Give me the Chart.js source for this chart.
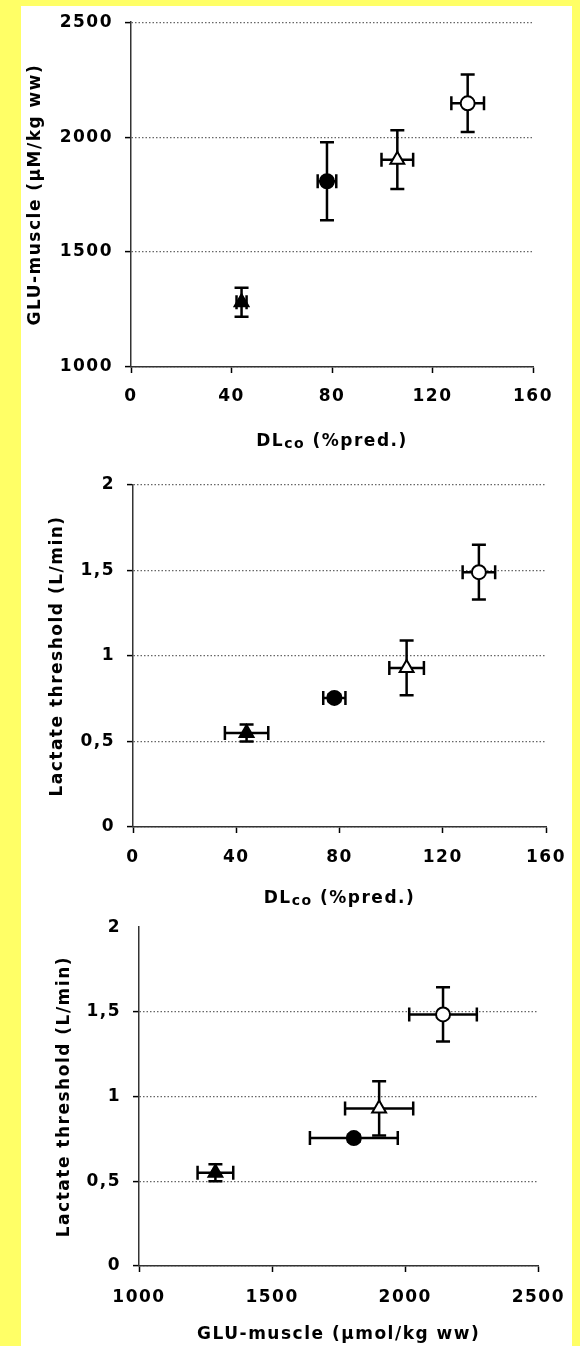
<!DOCTYPE html>
<html>
<head>
<meta charset="utf-8">
<script src="https://cdn.jsdelivr.net/npm/chart.js@4.4.1/dist/chart.umd.min.js"></script>
<style>
  html, body { margin: 0; padding: 0; background: #ffff66; }
  #page { position: relative; width: 580px; height: 1346px; overflow: hidden; }
  #panel { position: absolute; left: 21px; top: 6px; width: 551px; height: 1340px; background: #fff; }
  canvas { position: absolute; left: 0; }
</style>
</head>
<body>
<div id="page">
  <div id="panel"></div>
  <canvas id="c1" width="580" height="458" style="top:0"></canvas>
  <canvas id="c2" width="580" height="454" style="top:458px"></canvas>
  <canvas id="c3" width="580" height="441" style="top:905px"></canvas>
</div>
<script>
/* three scatter panels with x/y error bars (group means +- SE) */

// group markers: filled triangle, filled circle, open triangle, open circle
const markerStyle = ['triangle', 'circle', 'triangle', 'circle'];
const markerFill = ['#000', '#000', '#fff', '#fff'];
const markerSize = [8, 7, 8, 7];

// panel A: GLU-muscle vs DLco
const dlcoA = [44, 78, 106, 134];
const dlcoErrA = [2, 3.7, 6.3, 6.5];
const gluA = [1282, 1808, 1902, 2147];
const gluErrA = [63, 170, 128, 125];

// panel B: lactate threshold vs DLco
const dlcoB = [44, 78, 106, 134];
const dlcoErrB = [8.4, 4.3, 6.7, 6.3];
const ltB = [0.55, 0.755, 0.93, 1.49];
const ltErrB = [0.05, 0.02, 0.16, 0.16];

// panel C: lactate threshold vs GLU-muscle
const gluC = [1287, 1807, 1902, 2142];
const gluErrC = [67, 165, 128, 127];
const ltC = [0.55, 0.755, 0.93, 1.485];
const ltErrC = [0.05, 0.02, 0.16, 0.16];

// axis ticks
const dlcoTicks = [0, 40, 80, 120, 160];
const gluTicks = [1000, 1500, 2000, 2500];
const ltTicks = [0, 0.5, 1, 1.5, 2];

const FONT = "'DejaVu Sans', 'Liberation Sans', sans-serif";
const tickFont = { family: FONT, size: 17, weight: 'bold' };
const titleFont = { family: FONT, size: 17, weight: 'bold' };
const GRID = '#666';
const CAP = 7;

const comma = (v) => String(v).replace('.', ',');

// wide tracking like the scanned figure; canvas resets state on resize so set it often
const tracking = {
  id: 'tracking',
  beforeLayout(chart) { chart.ctx.letterSpacing = '1.5px'; },
  beforeDraw(chart) { chart.ctx.letterSpacing = '1.5px'; }
};

// error bars drawn under the markers, from the dataset's xErr / yErr arrays
const errorBars = {
  id: 'errorBars',
  beforeDatasetsDraw(chart) {
    const { ctx } = chart, sx = chart.scales.x, sy = chart.scales.y;
    chart.data.datasets.forEach((ds) => {
      ctx.save();
      ctx.strokeStyle = '#000'; ctx.lineWidth = 2.5; ctx.setLineDash([]);
      ds.data.forEach((p, i) => {
        const px = sx.getPixelForValue(p.x), py = sy.getPixelForValue(p.y);
        const x0 = sx.getPixelForValue(p.x - ds.xErr[i]), x1 = sx.getPixelForValue(p.x + ds.xErr[i]);
        const y0 = sy.getPixelForValue(p.y - ds.yErr[i]), y1 = sy.getPixelForValue(p.y + ds.yErr[i]);
        ctx.beginPath();
        ctx.moveTo(x0, py); ctx.lineTo(x1, py);
        ctx.moveTo(x0, py - CAP); ctx.lineTo(x0, py + CAP);
        ctx.moveTo(x1, py - CAP); ctx.lineTo(x1, py + CAP);
        ctx.moveTo(px, y0); ctx.lineTo(px, y1);
        ctx.moveTo(px - CAP, y0); ctx.lineTo(px + CAP, y0);
        ctx.moveTo(px - CAP, y1); ctx.lineTo(px + CAP, y1);
        ctx.stroke();
      });
      ctx.restore();
    });
  }
};

// "DLco (%pred.)" with the subscript, centred under the plot
const dlcoTitle = (baseline) => ({
  id: 'dlcoTitle',
  afterDraw(chart) {
    const { ctx, chartArea } = chart;
    const parts = [['DL', 17, 0], ['co', 14, 2], [' (%pred.)', 17, 0]];
    ctx.save();
    ctx.letterSpacing = '1.5px';
    ctx.fillStyle = '#000'; ctx.textAlign = 'left'; ctx.textBaseline = 'alphabetic';
    let total = 0;
    parts.forEach((p) => { ctx.font = `bold ${p[1]}px ${FONT}`; total += ctx.measureText(p[0]).width; });
    let x = (chartArea.left + chartArea.right) / 2 - total / 2;
    parts.forEach((p) => {
      ctx.font = `bold ${p[1]}px ${FONT}`;
      ctx.fillText(p[0], x, baseline + p[2]);
      x += ctx.measureText(p[0]).width;
    });
    ctx.restore();
  }
});

function points(xs, ys) { return xs.map((x, i) => ({ x, y: ys[i] })); }

function makePanel(id, cfg) {
  const hideAt = cfg.hideGridAt;
  const gridColor = (c) => (c.tick && c.tick.value === hideAt ? 'rgba(0,0,0,0)' : GRID);
  const tickColor = (c) => (c.tick && c.tick.value === hideAt ? 'rgba(0,0,0,0)' : '#000');
  return new Chart(document.getElementById(id), {
    type: 'scatter',
    data: { datasets: [{
      data: points(cfg.xs, cfg.ys), xErr: cfg.xErr, yErr: cfg.yErr,
      pointStyle: markerStyle, pointRadius: markerSize, pointHoverRadius: markerSize,
      backgroundColor: markerFill, borderColor: '#000', borderWidth: 2
    }]},
    options: {
      responsive: false, animation: false, events: [],
      layout: { padding: { left: 0, right: cfg.right, top: cfg.top, bottom: 0 } },
      plugins: { legend: { display: false }, tooltip: { enabled: false } },
      scales: {
        x: {
          type: 'linear', min: cfg.xTicks[0], max: cfg.xTicks[cfg.xTicks.length - 1],
          afterBuildTicks: (s) => { s.ticks = cfg.xTicks.map((v) => ({ value: v })); },
          grid: { drawOnChartArea: false, tickLength: 6, tickColor: '#000', tickWidth: 1.5 },
          border: { color: '#333', width: 1.5 },
          ticks: { font: tickFont, color: '#000', padding: cfg.xPad, maxRotation: 0, callback: comma },
          title: cfg.xTitle ? { display: true, text: cfg.xTitle, font: titleFont, color: '#000', padding: { top: 0, bottom: 1 } } : { display: false },
          afterFit: (s) => { s.height = cfg.xHeight; }
        },
        y: {
          type: 'linear', min: cfg.yTicks[0], max: cfg.yTicks[cfg.yTicks.length - 1],
          afterBuildTicks: (s) => { s.ticks = cfg.yTicks.map((v) => ({ value: v })); },
          grid: { color: gridColor, lineWidth: 1.2, tickLength: 6, tickColor: tickColor, tickWidth: 1.5 },
          border: { color: '#333', width: 1.5, dash: [1.5, 2] },
          ticks: { font: tickFont, color: '#000', padding: 12, callback: comma },
          title: { display: true, text: cfg.yTitle, font: titleFont, color: '#000', padding: { top: cfg.yTitleTop, bottom: 0 } },
          afterFit: (s) => { s.width = cfg.yWidth; }
        }
      }
    },
    plugins: [tracking, errorBars].concat(cfg.extra || [])
  });
}

makePanel('c1', {
  xs: dlcoA, ys: gluA, xErr: dlcoErrA, yErr: gluErrA,
  xTicks: dlcoTicks, yTicks: gluTicks, yTitle: 'GLU-muscle (µM/kg ww)',
  top: 20, right: 47, yWidth: 131, xHeight: 91, xPad: 13, yTitleTop: 25,
  extra: [dlcoTitle(446)]
});

makePanel('c2', {
  xs: dlcoB, ys: ltB, xErr: dlcoErrB, yErr: ltErrB,
  xTicks: dlcoTicks, yTicks: ltTicks, yTitle: 'Lactate threshold (L/min)',
  top: 27, right: 30, yWidth: 133, xHeight: 85, xPad: 14, yTitleTop: 47,
  extra: [dlcoTitle(445)]
});

makePanel('c3', {
  xs: gluC, ys: ltC, xErr: gluErrC, yErr: ltErrC,
  xTicks: gluTicks, yTicks: ltTicks, yTitle: 'Lactate threshold (L/min)',
  xTitle: 'GLU-muscle (µmol/kg ww)',
  top: 18, right: 34, yWidth: 139, xHeight: 80, xPad: 15, yTitleTop: 54,
  hideGridAt: 2
});
</script>
</body>
</html>
